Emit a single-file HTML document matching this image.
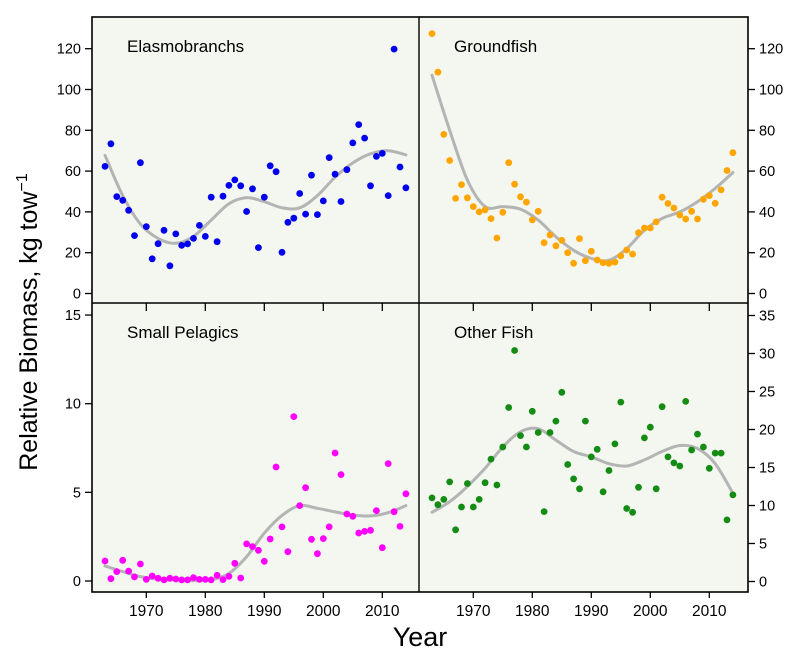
<!DOCTYPE html>
<html><head><meta charset="utf-8"><style>
html,body{margin:0;padding:0;background:#fff;}
svg{display:block;font-family:"Liberation Sans",Arial,sans-serif;}
</style></head><body>
<svg id="chart" width="800" height="662" viewBox="0 0 800 662" xmlns="http://www.w3.org/2000/svg">
<g id="panels"></g>
<text x="420" y="646" font-size="27" text-anchor="middle" fill="#000">Year</text>
<text transform="translate(37,322) rotate(-90)" font-size="25" text-anchor="middle" fill="#000">Relative Biomass, kg tow<tspan font-size="16" dy="-10">−1</tspan></text>
</svg>
<script>
const years = [];
for (let y = 1963; y <= 2014; y++) years.push(y);
const trendYears = [1963,1966,1969,1972,1975,1978,1981,1984,1987,1990,1993,1996,1999,2002,2005,2008,2011,2014];
const xTickLabels = ['1970','1980','1990','2000','2010'];

const elasmoValues = [62.3,73.4,47.5,45.7,40.8,28.4,64.1,32.8,17,24.4,31,13.6,29.2,23.6,24.3,27,33.4,28,47.2,25.4,47.7,53,55.7,52.8,40.2,51.3,22.5,47.2,62.6,59.7,20.2,34.9,36.9,49,38.9,58,38.7,45.4,66.6,58.5,45.1,60.7,73.8,82.8,76.2,52.8,67.2,68.7,48,119.8,62,51.8];
const elasmoTrend = [67.7,48,34,27,24.6,28,36,44,47,45,42,42,48,57,64,68.5,70,68];

const groundValues = [127.4,108.5,78,65.2,46.6,53.4,46.9,42.6,40,41,36.7,27.2,39.8,64.1,53.6,47.4,44.8,36.1,40.3,24.9,28.7,23.4,26.1,20,14.8,26.9,16.1,20.7,16.4,15.1,14.8,15.4,18.5,21.3,19.3,29.8,32.1,32.1,35.1,47.2,44.1,41.9,38.5,36.5,40.3,36.5,46.2,48,44.2,50.8,60.3,69];
const groundTrend = [107,80,55.6,42.6,42.6,41.3,36,27.8,21.2,17.2,16.3,22,31,36.8,40,45,51.5,59.3];

const pelagicValues = [1.13,0.13,0.53,1.17,0.56,0.23,0.96,0.09,0.28,0.15,0.06,0.15,0.11,0.06,0.06,0.19,0.09,0.09,0.06,0.32,0.08,0.26,1.0,0.17,2.09,1.94,1.73,1.11,2.37,6.43,3.05,1.65,9.27,4.25,5.26,2.35,1.54,2.39,3.05,7.22,6.0,3.78,3.65,2.71,2.8,2.86,3.97,1.88,6.62,3.91,3.08,4.92];
const pelagicTrend = [0.85,0.53,0.25,0.1,0.06,0.02,0.06,0.43,1.37,2.7,3.7,4.25,4.1,3.9,3.72,3.67,3.85,4.25];

const otherValues = [11.0,10.1,10.8,13.1,6.8,9.8,12.9,9.8,10.8,13.0,16.1,12.7,17.7,22.9,30.4,19.2,17.7,22.4,19.6,9.2,19.6,21.1,24.9,15.4,13.5,12.2,21.1,16.4,17.4,11.8,14.6,18.1,23.6,9.6,9.1,12.4,18.9,20.3,12.2,23.0,16.4,15.6,15.2,23.7,17.3,19.4,17.7,14.9,16.9,16.9,8.1,11.4];
const otherTrend = [9.1,10.5,12.5,14.9,17.7,19.7,20.1,18.6,17.1,16.4,15.5,15.2,16,17.1,17.9,17.5,15.5,11.6];

const elasmoTicks = [0,20,40,60,80,100,120];
const groundTicks = [0,20,40,60,80,100,120];
const pelagicTicks = [0,5,10,15];
const otherTicks = [0,5,10,15,20,25,30,35];

const NS = 'http://www.w3.org/2000/svg';
const root = document.getElementById('panels');
function mk(tag, attrs, parent) {
  const e = document.createElementNS(NS, tag);
  for (const k in attrs) e.setAttribute(k, attrs[k]);
  (parent || root).appendChild(e);
  return e;
}
const X0 = 92, XM = 419, X1 = 748, Y0 = 17, YM = 303, Y1 = 592;

const panels = [
  {name:'elasmobranchs', title:'Elasmobranchs', vals:elasmoValues, trend:elasmoTrend, ticks:elasmoTicks, color:'#0000ee', xoff:0, y0:293.5, k:2.04, side:'left', top:Y0, bot:YM, left:X0, right:XM},
  {name:'groundfish', title:'Groundfish', vals:groundValues, trend:groundTrend, ticks:groundTicks, color:'#ffa500', xoff:327, y0:293.5, k:2.04, side:'right', top:Y0, bot:YM, left:XM, right:X1},
  {name:'small-pelagics', title:'Small Pelagics', vals:pelagicValues, trend:pelagicTrend, ticks:pelagicTicks, color:'#ff00ff', xoff:0, y0:581, k:17.73, side:'left', top:YM, bot:Y1, left:X0, right:XM},
  {name:'other-fish', title:'Other Fish', vals:otherValues, trend:otherTrend, ticks:otherTicks, color:'#148c14', xoff:327, y0:581.5, k:7.6, side:'right', top:YM, bot:Y1, left:XM, right:X1}
];

function smoothPath(pts) {
  let d = 'M' + pts[0][0].toFixed(1) + ',' + pts[0][1].toFixed(1);
  for (let i = 0; i < pts.length - 1; i++) {
    const p0 = pts[i-1] || pts[i], p1 = pts[i], p2 = pts[i+1], p3 = pts[i+2] || p2;
    const c1x = p1[0] + (p2[0]-p0[0])/6, c1y = p1[1] + (p2[1]-p0[1])/6;
    const c2x = p2[0] - (p3[0]-p1[0])/6, c2y = p2[1] - (p3[1]-p1[1])/6;
    d += ' C' + c1x.toFixed(1) + ',' + c1y.toFixed(1) + ' ' + c2x.toFixed(1) + ',' + c2y.toFixed(1) + ' ' + p2[0].toFixed(1) + ',' + p2[1].toFixed(1);
  }
  return d;
}

// background panels
panels.forEach(p => {
  const bg = mk('rect', {x:p.left, y:p.top, width:p.right-p.left, height:p.bot-p.top, fill:'#f4f6f0'});
  
  
});

panels.forEach(p => {
  const g = mk('g', {});
  
  
  const xs = yr => 146.3 + (yr - 1970) * 5.9 + p.xoff;
  const ys = v => p.y0 - v * p.k;
  // trend
  const tp = p.trend.map((v, i) => [xs(trendYears[i]), ys(v)]);
  const path = mk('path', {d:smoothPath(tp), fill:'none', stroke:'#b4b4b4', 'stroke-width':3, 'stroke-linecap':'round'}, g);
  
  
  // points
  p.vals.forEach((v, i) => {
    const c = mk('circle', {cx:xs(years[i]).toFixed(1), cy:ys(v).toFixed(1), r:3.4, fill:p.color}, g);
    
    
  });
  // title
  const t = mk('text', {x:p.left + 35, y:p.top + 35, 'font-size':17, fill:'#000'}, g);
  t.textContent = p.title;
  
  
  // y ticks
  p.ticks.forEach(v => {
    const y = ys(v);
    if (p.side === 'left') {
      mk('line', {x1:X0-7, x2:X0, y1:y, y2:y, stroke:'#000', 'stroke-width':1.3}, g);
      const lt = mk('text', {x:X0-11, y:y+5, 'font-size':14.5, 'text-anchor':'end', fill:'#000'}, g);
      lt.textContent = v;
      
      
    } else {
      mk('line', {x1:X1, x2:X1+7, y1:y, y2:y, stroke:'#000', 'stroke-width':1.3}, g);
      const lt = mk('text', {x:X1+11, y:y+5, 'font-size':14.5, 'text-anchor':'start', fill:'#000'}, g);
      lt.textContent = v;
      
      
    }
  });
  // x ticks
  xTickLabels.forEach(lbl => {
    const x = xs(+lbl);
    if (p.top === YM) {
      mk('line', {x1:x, x2:x, y1:Y1, y2:Y1+6, stroke:'#000', 'stroke-width':1.3}, g);
      mk('line', {x1:x, x2:x, y1:YM, y2:YM+8, stroke:'#000', 'stroke-width':1.3}, g);
      const xt = mk('text', {x:x, y:Y1+24, 'font-size':15.5, 'text-anchor':'middle', fill:'#000'}, g);
      xt.textContent = lbl;
      
      
    }
  });
});

// frame
mk('rect', {x:X0, y:Y0, width:X1-X0, height:Y1-Y0, fill:'none', stroke:'#000', 'stroke-width':1.6});
mk('line', {x1:XM, x2:XM, y1:Y0, y2:Y1, stroke:'#000', 'stroke-width':1.4});
mk('line', {x1:X0, x2:X1, y1:YM, y2:YM, stroke:'#000', 'stroke-width':1.4});
</script>
</body></html>
